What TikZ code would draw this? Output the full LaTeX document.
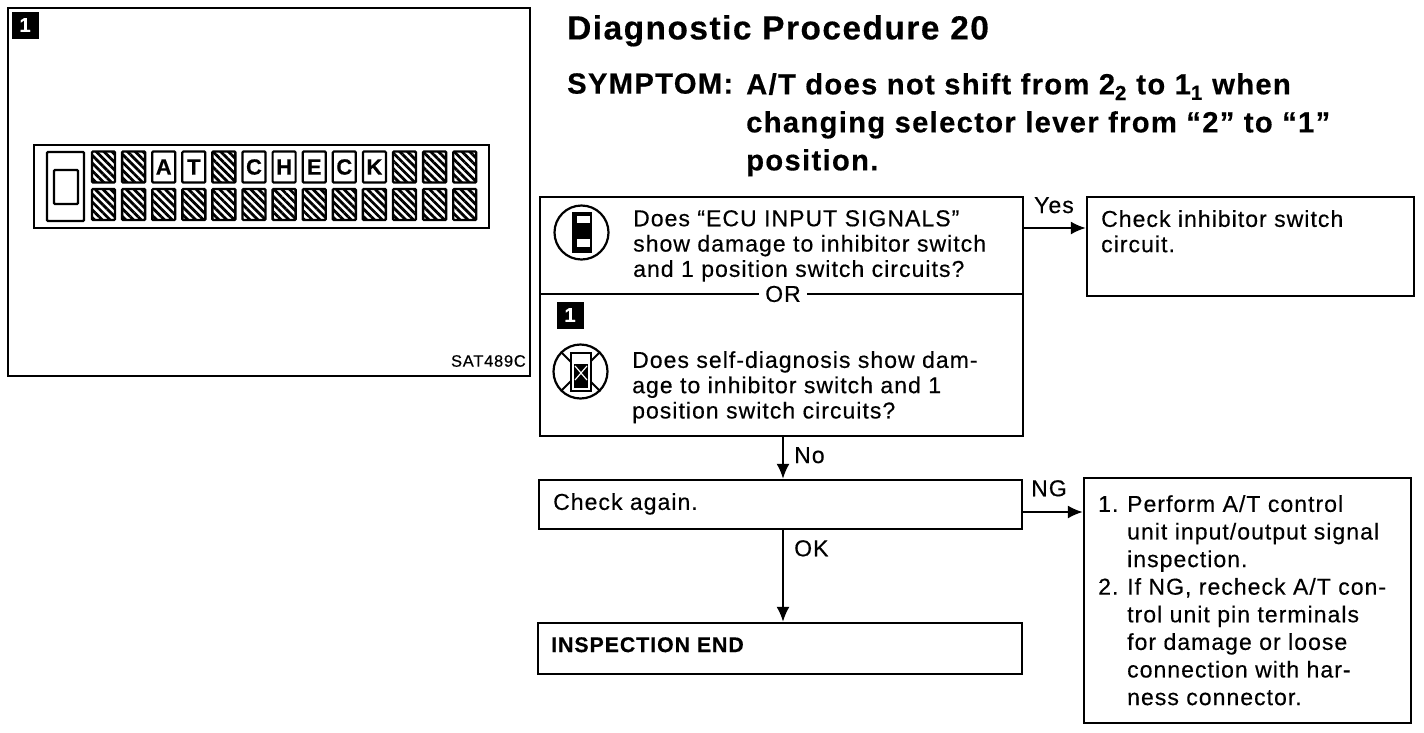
\documentclass[tikz,border=0pt]{standalone}
\usepackage{fontspec}
\setmainfont[LetterSpace=4.5,FakeBold=0.4]{Liberation Sans}
\usetikzlibrary{arrows.meta,patterns.meta}
\tikzset{
    flowbox/.style={draw, line width=2.2pt, inner sep=0pt},
    flowtext/.style={anchor=north west, inner sep=0pt, align=left, font=\fontsize{23}{25.3}\selectfont},
    titletext/.style={anchor=north west, inner sep=0pt, align=left, font=\fontsize{29.2}{38}\selectfont\bfseries},
    flowarrow/.style={line width=2.2pt, -{Latex[length=15pt,width=13pt]}},
    badge/.style={fill=black, text=white, minimum size=27pt, inner sep=0pt, font=\fontsize{20}{20}\selectfont\bfseries},
    hatchcell/.style={draw, line width=2.4pt, rounded corners=1pt, minimum width=23pt, minimum height=31pt, inner sep=0pt,
        pattern={Lines[angle=-45,distance=5.5pt,line width=2.8pt]}},
    lettercell/.style={draw, line width=2.2pt, rounded corners=1pt, minimum width=23pt, minimum height=31pt, inner sep=0pt,
        font=\fontsize{22}{22}\selectfont\bfseries},
}
\newcommand{\numitem}[1]{\makebox[29pt][l]{#1}}
\newcommand{\numgap}{\hspace*{29pt}}
\begin{document}
\begin{tikzpicture}[x=1pt, y=-1pt]
    \useasboundingbox (0,0) rectangle (1424,732);

    % left panel
    \node[flowbox, minimum width=522pt, minimum height=368pt] (panel) at (269,192) {};
    \node[badge] (badgeA) at (25,25) {1};
    \node[anchor=east, inner sep=0pt, font=\fontsize{16.5}{16.5}\selectfont] (partno) at (526,361) {SAT489C};

    % display
    \node[flowbox, minimum width=455pt, minimum height=83pt] (display) at (261.5,186.5) {};
    \node[draw, line width=2.2pt, rounded corners=1pt, minimum width=37pt, minimum height=69pt] (lever) at (65.5,186.5) {};
    \node[draw, line width=2.2pt, rounded corners=1pt, minimum width=24pt, minimum height=34pt] (leverwin) at (66,187) {};
    \foreach \col in {0,...,12}
        \node[hatchcell] (low\col) at ({103.5+30.1*\col},204.5) {};
    \foreach \col in {0,1,4,10,11,12}
        \node[hatchcell] (up\col) at ({103.5+30.1*\col},167) {};
    \foreach \col/\letter in {2/A,3/T,5/C,6/H,7/E,8/C,9/K}
        \node[lettercell] (up\col) at ({103.5+30.1*\col},167) {\letter};

    % title
    \node[titletext, font=\fontsize{33.4}{38}\selectfont\bfseries] (title) at (567,15) {Diagnostic Procedure 20};
    \node[titletext] (symptom) at (567,73) {SYMPTOM:};
    \node[titletext] (symptomtext) at (746,73) {A/T does not shift from 2\textsubscript{2} to 1\textsubscript{1} when\\changing selector lever from “2” to “1”\\position.};

    % flow boxes
    \node[flowbox, minimum width=483pt, minimum height=97pt] (qtop) at (781.5,245.5) {};
    \node[flowbox, minimum width=483pt, minimum height=142pt] (qbot) at (781.5,365) {};
    \node[flowbox, minimum width=327pt, minimum height=99pt] (yesbox) at (1250.5,246.5) {};
    \node[flowbox, minimum width=483pt, minimum height=49pt] (chkbox) at (780.5,504.5) {};
    \node[flowbox, minimum width=484pt, minimum height=51pt] (endbox) at (780,648.5) {};
    \node[flowbox, minimum width=327pt, minimum height=245pt] (ngbox) at (1247.5,600.5) {};
    \node[fill=white, inner xsep=6pt, inner ysep=0pt, font=\fontsize{23}{23}\selectfont] (ortext) at (783,294) {OR};
    \node[badge] (badgeB) at (570,315) {1};

    % texts
    \node[flowtext] (qtoptext) at (633,210) {Does “ECU INPUT SIGNALS”\\show damage to inhibitor switch\\and 1 position switch circuits?};
    \node[flowtext] (qbottext) at (632,351) {Does self-diagnosis show dam-\\age to inhibitor switch and 1\\position switch circuits?};
    \node[flowtext] (yestext) at (1101,210) {Check inhibitor switch\\circuit.};
    \node[flowtext] (chktext) at (553,493) {Check again.};
    \node[flowtext, font=\fontsize{21.3}{25}\selectfont\bfseries] (endtext) at (551,637) {INSPECTION END};
    \node[flowtext, font=\fontsize{23}{27.6}\selectfont] (ngtext) at (1098,495) {\numitem{1.}Perform A/T control\\\numgap unit input/output signal\\\numgap inspection.\\\numitem{2.}If NG, recheck A/T con-\\\numgap trol unit pin terminals\\\numgap for damage or loose\\\numgap connection with har-\\\numgap ness connector.};

    % icons
    \node[circle, draw, line width=2.2pt, minimum size=54pt, inner sep=0pt] (iconA) at (581.5,232.5) {};
    \fill (572,212) rectangle (592,253);
    \fill[white] (577,216) rectangle (590,223);
    \fill[white] (577,239) rectangle (590,247);
    \node[circle, draw, line width=2.2pt, minimum size=54pt, inner sep=0pt] (iconB) at (580.5,371.5) {};
    \draw[line width=2pt] (iconB.north west) -- (iconB.south east);
    \draw[line width=2pt] (iconB.north east) -- (iconB.south west);
    \draw[line width=2pt, fill=white] (571,353) rectangle (591,391);
    \fill (574,364) rectangle (588,388);
    \draw[white, line width=1.2pt] (575,366) -- (587,380);
    \draw[white, line width=1.2pt] (587,366) -- (575,380);

    % connectors
    \coordinate (yesout) at (1023,228);
    \coordinate (ngout) at (1022,512);
    \coordinate (noout) at (783,436);
    \coordinate (okout) at (783,529);
    \draw[flowarrow] (yesout) -- (yesout -| yesbox.west);
    \draw[flowarrow] (noout) -- (noout |- chkbox.north);
    \draw[flowarrow] (okout) -- (okout |- endbox.north);
    \draw[flowarrow] (ngout) -- (ngout -| ngbox.west);

    % labels
    \node[flowtext] (yeslabel) at (1034,197) {Yes};
    \node[flowtext] (nolabel) at (794,447) {No};
    \node[flowtext] (oklabel) at (794,540) {OK};
    \node[flowtext] (nglabel) at (1031,480) {NG};
\end{tikzpicture}
\end{document}
